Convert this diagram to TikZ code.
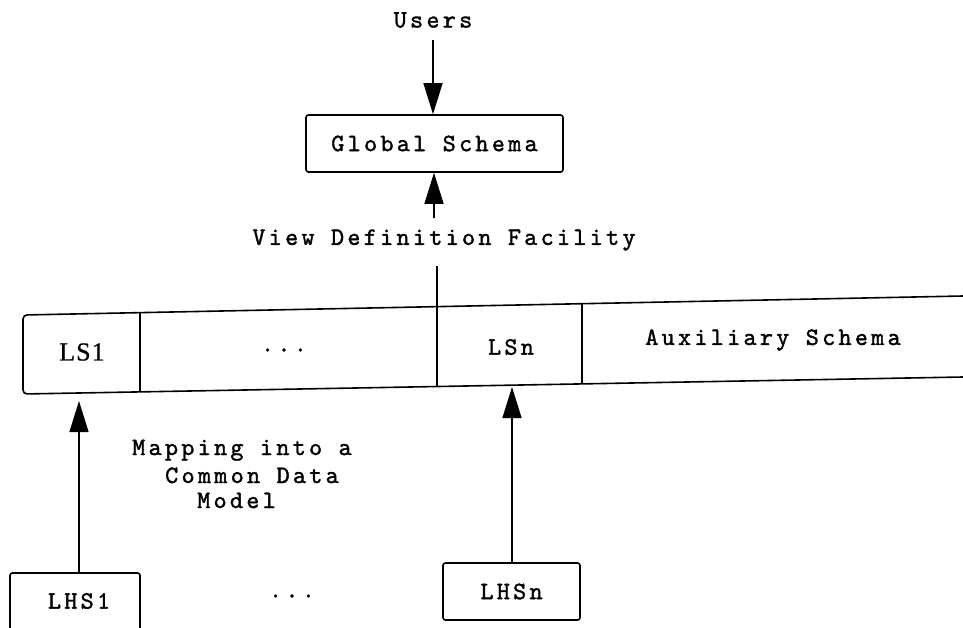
\documentclass[tikz,border=0pt]{standalone}
\usepackage{fontspec}
\usetikzlibrary{arrows.meta}
\newfontfamily\serfont[LetterSpace=4,FakeBold=0.6]{Liberation Serif}
\newfontfamily\twfont[LetterSpace=13,FakeBold=1.4]{lmmono10-regular.otf}
\begin{document}
\begin{tikzpicture}[x=1pt,y=-1pt,
  txt/.style={font=\twfont\fontsize{25}{27}\selectfont, inner sep=0pt},
  sertxt/.style={font=\serfont\fontsize{26}{28}\selectfont, inner sep=0pt},
  boxnode/.style={draw, line width=1.6pt, rounded corners=2.5pt, inner sep=0pt},
  arr/.style={line width=1.3pt, -{Triangle[length=31pt,width=19pt]}},
  plain/.style={line width=1.3pt},
  rowline/.style={line width=1.6pt}]
\clip (0,0) rectangle (963,627);
\fill[white] (0,0) rectangle (963,627);

% top part
\node[txt] (users) at (433,20) {Users};
\node[boxnode, txt, minimum width=257pt, minimum height=57pt] (gs) at (434.5,143.5) {Global Schema};
\node[txt] (vdf) at (444,240) {View Definition Facility};
\coordinate (gsin) at (434,218);
\coordinate (rowtop) at (437,306.6);

\draw[arr] (users.south |- 0,40) -- (users.south |- gs.north);
\draw[arr] (gsin) -- (gsin |- gs.south);
\draw[plain] (437,266) -- (rowtop);

% row of schemas
\draw[rowline, rounded corners=4pt] (963,296) -- (23,315) -- (23,394) -- (963,377);
\draw[rowline] (140,312.6) -- (140,391.9);
\draw[rowline] (rowtop) -- (437,386.5);
\draw[rowline] (582,303.7) -- (582,383.9);

\node[sertxt] (ls1) at (82,352) {LS1};
\node[txt] (dots1) at (284,350) {...};
\node[txt] (lsn) at (511,347) {LSn};
\node[txt] (aux) at (773,340) {Auxiliary Schema};

% bottom part
\node[boxnode, minimum width=130pt, minimum height=80pt] (lhs1) at (75,613) {};
\node[txt] (lhs1t) at (79,601) {LHS1};
\node[boxnode, txt, minimum width=137pt, minimum height=57pt] (lhsn) at (511.5,591.5) {LHSn};
\node[txt] (dots2) at (292,596) {...};

\coordinate (ls1b) at (79,401);
\coordinate (lsnb) at (512,387);
\draw[arr] (lhs1.north -| ls1b) -- (ls1b);
\draw[arr] (lhsn.north -| lsnb) -- (lsnb);

\node[txt, anchor=base west] (map1) at (132,455) {Mapping into a};
\node[txt, anchor=base west] (map2) at (165,483) {Common Data};
\node[txt, anchor=base west] (map3) at (197,508) {Model};
\end{tikzpicture}
\end{document}
